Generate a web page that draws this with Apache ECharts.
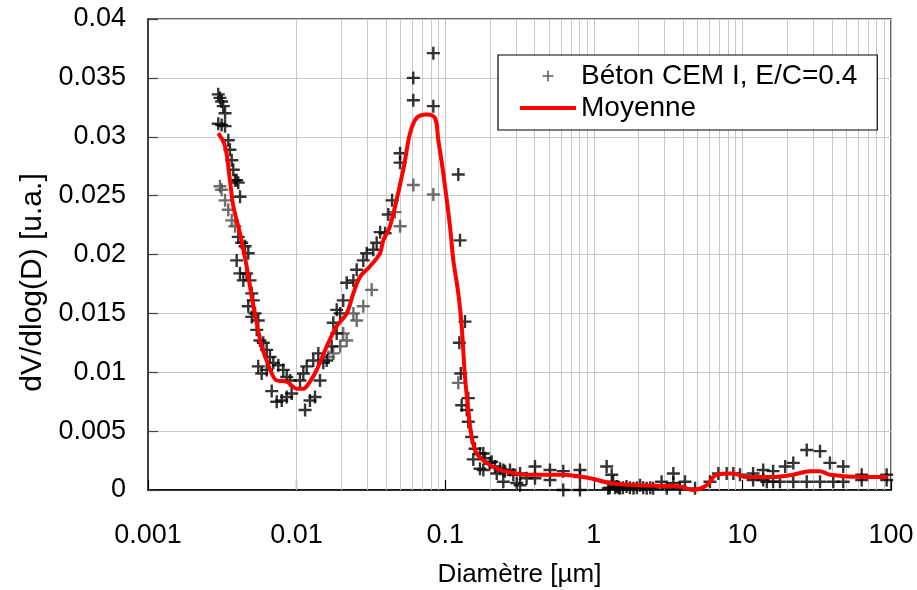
<!DOCTYPE html>
<html><head><meta charset="utf-8">
<script src="https://cdn.jsdelivr.net/npm/echarts@6/dist/echarts.min.js"></script>
<style>html,body{margin:0;padding:0;background:#fff}#c{width:917px;height:590px}</style>
</head><body><div id="c"></div>
<script>
// Measured points (black crosses)
const diamA = [0.00297,0.00305,0.00313,0.00321,0.0033,0.00297,0.00313,0.0033,0.00347,0.00356,0.00366,0.00375,0.00385,0.00395,0.00405,0.00416,
 0.00405,0.00427,0.0045,0.00473,0.00395,0.00416,0.00438,0.00461,0.00486,0.00499,0.00511,0.00473,0.00499,0.00525,0.00552,0.00539,0.00567,0.00597,0.00629,0.00662,
 0.00552,0.00582,0.00629,0.00697,0.00753,0.00813,0.00858,0.00903,0.0068,0.00735,0.00794,0.00858,0.00926,0.01054,0.0111,0.0114,0.0123,0.0133,0.01437,
 0.0117,0.01295,0.014,0.01513,0.01595,0.01722,0.01862,0.01766,0.01862,0.0196,0.0206,0.02174,0.0241,0.02537,0.0281,0.02963,0.0328,0.03459,
 0.0832,0.061,0.061,0.0832,0.0497,0.0497,0.1225,0.0414,0.0394,0.0365,0.0439,0.1258,0.1359,0.1245,0.1273,0.143,0.1291,0.1396,0.143,0.1508,0.1587,0.1714,0.1545,0.1853,0.1714,0.2055,0.234,0.2527,0.2873,0.303,
 0.1805,0.1805,0.2,0.2163,0.2223,0.246,0.246,0.273,0.319,0.319,0.353,0.402,0.402,0.507,0.507,0.623,0.623,0.807,0.807,0.807,
 1.22,1.32,1.25,1.28,1.35,1.39,1.43,1.47,1.5,1.57,1.66,1.75,1.85,1.95,2.05,2.15,2.27,2.4,2.51,2.86,3.1,3.43,3.43,3.8,4.11,4.8,
 6.05,6.89,7.84,8.69,9.63,11.8,11.8,13.8,13.8,14.6,16.1,16.1,17.9,19.4,22.0,22.0,27.1,27.1,33.3,33.3,38.8,40.9,47.7,47.7,63.5,63.5,93.5,93.5];
const valA = [0.0336,0.0333,0.0330,0.0326,0.0320,0.0311,0.0310,0.0309,0.0297,0.0289,0.0280,0.0272,0.0263,0.0263,0.0261,0.0249,
 0.0215,0.0210,0.0207,0.0201,0.0195,0.0184,0.0178,0.0184,0.0178,0.0167,0.0161,0.0156,0.0147,0.0150,0.0144,0.0136,0.0127,0.0125,0.0119,0.0113,
 0.0105,0.0099,0.0102,0.0108,0.0106,0.0102,0.0096,0.0093,0.0084,0.0075,0.0076,0.0079,0.0082,0.0093,0.0099,0.0068,0.0076,0.0079,0.0093,
 0.0105,0.0110,0.0116,0.0108,0.0110,0.0122,0.0133,0.0142,0.0153,0.0150,0.0161,0.0176,0.0178,0.0187,0.0195,0.0201,0.0204,0.0210,
 0.0371,0.0350,0.0331,0.0326,0.0286,0.0278,0.0268,0.0234,0.0218,0.0219,0.0246,0.0212,0.0143,0.0125,0.0099,0.0078,0.0072,0.0068,0.0058,0.0045,0.0035,0.0031,0.0026,0.0027,0.0018,0.0024,0.0018,0.0016,0.0013,0.0006,
 0.0031,0.0017,0.0023,0.0020,0.0014,0.0017,0.0007,0.0017,0.0014,0.0004,0.0010,0.0020,0.0010,0.0017,0.00085,0.0016,0.0000,0.0017,0.0011,0.0000,
 0.0020,0.0013,0.00014,0.0002,0.0007,0.0002,0.0003,0.0002,0.00014,0.0002,0.0003,0.0002,0.00014,0.0002,0.0004,0.0002,0.00014,0.0002,0.00014,0.0007,0.00014,0.0014,0.0006,0.00014,0.0007,0.00014,
 0.0007,0.0014,0.0014,0.0014,0.0013,0.0014,0.00085,0.0017,0.00085,0.0007,0.0016,0.0007,0.0007,0.0020,0.0023,0.0007,0.0034,0.0007,0.0033,0.0007,0.0023,0.0007,0.0020,0.0007,0.0013,0.00085,0.0013,0.00085];
// Measured points (grey crosses)
const diamB = [0.00305,0.00313,0.0033,0.00347,0.00366,0.00385,0.0241,0.02537,0.0281,0.032,0.0206,0.02174,0.0196,0.01766,0.01635,0.061,0.0832,0.0497,0.0459,0.1225];
const valB  = [0.0258,0.0255,0.0246,0.0238,0.0229,0.0224,0.0150,0.0144,0.0156,0.0170,0.0133,0.0127,0.0122,0.0116,0.0113,0.0259,0.0251,0.0224,0.0236,0.0091];
// Mean curve
const meanD = [0.00297,0.0033,0.00356,0.00375,0.00416,0.00461,0.00499,0.00539,0.00582,0.00629,0.0068,0.00735,0.00858,0.01002,0.0111,0.0123,0.01365,0.01595,0.01862,0.02174,0.0241,0.0267,0.0312,0.0364,0.0383,0.0425,0.0522,0.058,0.0643,0.0751,0.0853,0.0899,0.0971,0.1077,0.1135,0.1225,0.1291,0.1359,0.143,0.1508,0.163,0.19,0.234,0.303,0.336,0.623,0.942,1.285,2.05,3.8,4.67,5.75,6.71,8.69,10.7,16.1,22.0,28.5,33.3,38.8,65.1,95.9];
const meanV = [0.0303,0.0292,0.0263,0.0241,0.0218,0.0190,0.0164,0.0142,0.0122,0.0110,0.0099,0.0093,0.0092,0.0086,0.0086,0.0092,0.0102,0.0122,0.0139,0.0150,0.0167,0.0181,0.0190,0.0201,0.0212,0.0224,0.0272,0.0303,0.0316,0.0319,0.0316,0.0297,0.0269,0.0224,0.0195,0.0167,0.0139,0.0096,0.0068,0.0045,0.0031,0.0023,0.0017,0.0014,0.0013,0.0013,0.0010,0.0006,0.0004,0.0003,0.0000,0.0004,0.0013,0.0014,0.0011,0.0011,0.0013,0.0016,0.0016,0.0013,0.0011,0.0011];
// Axis ticks
const xDecades = [0.001,0.01,0.1,1,10];
const xMinorMult = [2,3,4,5,6,7,8,9];
const yTicks = [0,0.005,0.01,0.015,0.02,0.025,0.03,0.035,0.04];

const FONT = '"Liberation Sans", Arial, sans-serif';
const PLUS = 'path://M5.3,0H7.7V5.3H13V7.7H7.7V13H5.3V7.7H0V5.3H5.3Z';
const minorLines = [];
xDecades.forEach(d => xMinorMult.forEach(m => minorLines.push({xAxis: +(d*m).toPrecision(3)})));
const zip = (a,b) => a.map((v,i)=>[v,b[i]]);
const NAME = 'Béton CEM I, E/C=0.4';

const chart = echarts.init(document.getElementById('c'), null, {renderer:'canvas'});
chart.setOption({
  animation: false,
  backgroundColor: '#fff',
  textStyle: {fontFamily: FONT},
  grid: {left:148, right:26, top:19, bottom:100, show:true, borderColor:'#303030', borderWidth:1.5,
         containLabel:false, outerBoundsMode:'none'},
  legend: {
    orient:'vertical', left:498, top:55, z:20,
    data:[
      {name:NAME, icon:'path://M4.3,0H5.7V4.3H10V5.7H5.7V10H4.3V5.7H0V4.3H4.3Z', itemStyle:{color:'#333'}},
      {name:'Moyenne', icon:'path://M0,0H56V4H0Z', itemStyle:{color:'#ff0000'}}
    ],
    itemWidth:56, itemHeight:11, itemGap:0,
    backgroundColor:'#fff', borderColor:'#000', borderWidth:1.2, borderRadius:0,
    padding:[5,20,6,22],
    textStyle:{fontSize:28, color:'#000', fontFamily:FONT, lineHeight:32},
    selectedMode:false
  },
  xAxis: {
    type:'log', logBase:10, min:0.001, max:100,
    name:'Diamètre [µm]', nameLocation:'middle', nameGap:72,
    nameTextStyle:{fontSize:26, color:'#000', fontFamily:FONT},
    axisLine:{show:true, lineStyle:{color:'#000', width:1.5}},
    axisTick:{show:true, inside:true, length:10, lineStyle:{color:'#000', width:1.2}},
    axisLabel:{fontSize:27, color:'#000', margin:32, fontFamily:FONT,
      formatter: v => String(+(+v).toPrecision(6))},
    splitLine:{show:true, lineStyle:{color:'#c4c4c4', width:1}},
    minorTick:{show:false}
  },
  yAxis: {
    type:'value', min:yTicks[0], max:yTicks[yTicks.length-1], interval:yTicks[1]-yTicks[0],
    name:'dV/dlog(D) [u.a.]', nameLocation:'middle', nameGap:93, nameRotate:90,
    nameTextStyle:{fontSize:30, color:'#000', fontFamily:FONT, padding:[0,56,0,0]},
    axisLine:{show:true, lineStyle:{color:'#404040', width:2}},
    axisTick:{show:true, inside:true, length:10, lineStyle:{color:'#404040', width:1.2}},
    axisLabel:{fontSize:27, color:'#000', margin:22, fontFamily:FONT},
    splitLine:{show:true, lineStyle:{color:'#c8c8c8', width:1}}
  },
  series: [
    {type:'line', name:'grid', data:[], z:1, silent:true,
     markLine:{z:1, silent:true, symbol:['none','none'], label:{show:false}, animation:false,
       lineStyle:{color:'#c8c8c8', width:1, type:'solid'}, emphasis:{disabled:true}, data:minorLines}},
    {type:'scatter', name:NAME, data:zip(diamA,valA), symbol:PLUS, symbolSize:13, z:3,
     itemStyle:{color:'#000'}},
    {type:'scatter', name:NAME, data:zip(diamB,valB), symbol:PLUS, symbolSize:13, z:2,
     itemStyle:{color:'#4a4a4a'}},
    {type:'line', name:'Moyenne', data:zip(meanD,meanV), smooth:0.35, symbol:'none', showSymbol:false, z:4,
     lineStyle:{color:'#ff0000', width:4}, itemStyle:{color:'#ff0000'}}
  ]
});
</script></body></html>
